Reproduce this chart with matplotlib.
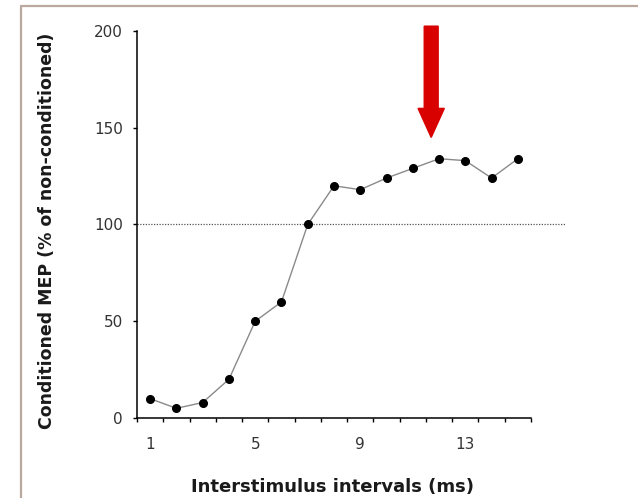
import numpy as np
import matplotlib.pyplot as plt
from matplotlib.lines import Line2D

# interstimulus interval (ms) vs conditioned MEP (% of non-conditioned)
isi = [1, 2, 3, 4, 5, 6, 7, 8, 9, 10, 11, 12, 13, 14, 15]
mep = [10, 5, 8, 20, 50, 60, 100, 120, 118, 124, 129, 134, 133, 124, 134]
xlabels = [1, 5, 9, 13]
ylabels = [0, 50, 100, 150, 200]
arrow_x = 11.7

fig = plt.figure(figsize=(6.38, 4.98), dpi=100)
ax = fig.add_axes([137/638, 80/498, 394/638, 387/498])

# frame around the figure (left and top only visible)
fig.add_artist(Line2D([21/638, 21/638, 1.0], [0.0, 1 - 6/498, 1 - 6/498],
                      transform=fig.transFigure, color='#bba89e', lw=1.6))

ax.plot(isi, mep, color='#8a8a8a', lw=1.0, marker='o', ms=5.5,
        mfc='black', mec='black', zorder=3)

# 100% reference line runs past the axis end
ax.plot([0.5, 16.85], [100, 100], color='#555555', lw=0.9,
        ls=(0, (1, 1.2)), clip_on=False, zorder=2)

# red arrow pointing at the peak
ax.arrow(arrow_x, 202.5, 0, -57.5, width=0.53, head_width=1.0,
         head_length=15, length_includes_head=True, color='#d90000',
         clip_on=False, zorder=4)

ax.set_xlim(0.5, 15.5)
ax.set_ylim(0, 200)
ax.set_xticks(xlabels)
ax.set_xticks(np.arange(0.5, 16, 1.0), minor=True)
ax.set_yticks(ylabels)
ax.tick_params(axis='x', which='major', length=0, pad=14, labelsize=11,
               labelcolor='#333333')
ax.tick_params(axis='x', which='minor', length=3, width=1, direction='out')
ax.tick_params(axis='y', which='major', length=3, width=1, pad=7,
               labelsize=11, labelcolor='#333333')

for s in ['top', 'right']:
    ax.spines[s].set_visible(False)
for s in ['left', 'bottom']:
    ax.spines[s].set_linewidth(1.1)

ax.set_xlabel('Interstimulus intervals (ms)', fontsize=13, fontweight='bold',
              color='#1a1a1a', va='center')
ax.set_ylabel('Conditioned MEP (% of non-conditioned)', fontsize=12.5,
              fontweight='bold', color='#1a1a1a', va='center')
ax.xaxis.set_label_coords(0.497, -0.178)
ax.yaxis.set_label_coords(-0.228, 0.483)

fig.savefig('out.png', dpi=100)
